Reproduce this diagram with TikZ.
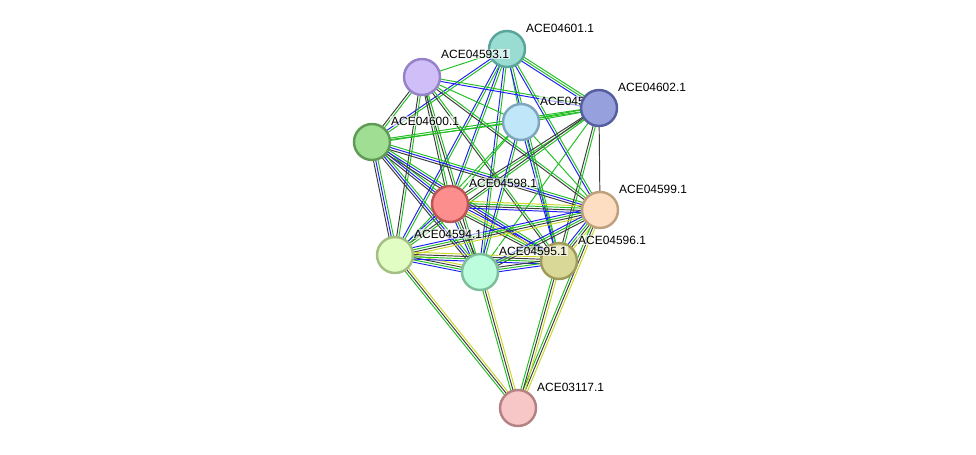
\documentclass[tikz,border=0pt]{standalone}
\usepackage{fontspec}
\setmainfont{Liberation Sans}
\usetikzlibrary{calc,backgrounds}

\definecolor{grn}{RGB}{35,190,35}
\definecolor{blu}{RGB}{30,30,245}
\definecolor{blk}{RGB}{60,60,60}
\definecolor{ylw}{RGB}{200,215,40}

\tikzset{
  prot/.style={circle,minimum size=0.72cm,inner sep=0pt,line width=1.4pt},
  lbl/.style={anchor=west,inner sep=0.5pt,fill=white,fill opacity=0.6,text opacity=1,
    font=\fontsize{6.8}{8}\selectfont},
}

% bundle of parallel lines between two proteins, one per evidence colour
\newcommand\ppiedge[3]{%
  \gdef\nlines{0}%
  \foreach \col in {#3}{\pgfmathtruncatemacro\tmp{\nlines+1}\global\let\nlines\tmp}%
  \foreach \col [count=\i] in {#3}{%
    \pgfmathsetmacro\off{(\i-(\nlines+1)/2)*1.3}%
    \draw[color=\col,line width=0.55pt] ($(#1)!\off pt!90:(#2)$) -- ($(#2)!\off pt!-90:(#1)$);}%
}

\begin{document}
\begin{tikzpicture}[x=0.02cm,y=-0.02cm]
\useasboundingbox (0,0) rectangle (976,454);

% proteins
\node[prot,fill={rgb,255:red,153;green,220;blue,210},draw={rgb,255:red,90;green,165;blue,155}] (n01) at (507,49) {};
\node[lbl] (l01) at ($(n01)+(18,-21)$) {ACE04601.1};
\node[prot,fill={rgb,255:red,207;green,190;blue,248},draw={rgb,255:red,150;green,130;blue,200}] (n93) at (422,77) {};
\node[lbl] (l93) at ($(n93)+(18,-23)$) {ACE04593.1};
\node[prot,fill={rgb,255:red,192;green,230;blue,250},draw={rgb,255:red,125;green,165;blue,190}] (n97) at (521,122) {};
\node[lbl] (l97) at ($(n97)+(18,-21)$) {ACE04597.1};
\node[prot,fill={rgb,255:red,150;green,160;blue,220},draw={rgb,255:red,85;green,95;blue,160}] (n02) at (599,108) {};
\node[lbl] (l02) at ($(n02)+(18,-21)$) {ACE04602.1};
\node[prot,fill={rgb,255:red,160;green,222;blue,148},draw={rgb,255:red,95;green,155;blue,85}] (n00) at (372,142) {};
\node[lbl] (l00) at ($(n00)+(18,-21)$) {ACE04600.1};
\node[prot,fill={rgb,255:red,252;green,142;blue,142},draw={rgb,255:red,190;green,85;blue,85}] (n98) at (450,204) {};
\node[lbl] (l98) at ($(n98)+(18,-21)$) {ACE04598.1};
\node[prot,fill={rgb,255:red,253;green,222;blue,195},draw={rgb,255:red,190;green,160;blue,125}] (n99) at (600,210) {};
\node[lbl] (l99) at ($(n99)+(18,-21)$) {ACE04599.1};
\node[prot,fill={rgb,255:red,225;green,253;blue,195},draw={rgb,255:red,165;green,190;blue,130}] (n94) at (395,255) {};
\node[lbl] (l94) at ($(n94)+(18,-21)$) {ACE04594.1};
\node[prot,fill={rgb,255:red,218;green,216;blue,150},draw={rgb,255:red,160;green,155;blue,90}] (n96) at (559,261) {};
\node[lbl] (l96) at ($(n96)+(18,-21)$) {ACE04596.1};
\node[prot,fill={rgb,255:red,188;green,253;blue,222},draw={rgb,255:red,125;green,190;blue,155}] (n95) at (480,272) {};
\node[lbl] (l95) at ($(n95)+(18,-21)$) {ACE04595.1};
\node[prot,fill={rgb,255:red,247;green,198;blue,198},draw={rgb,255:red,180;green,130;blue,130}] (n17) at (518,408) {};
\node[lbl] (l17) at ($(n17)+(18,-21)$) {ACE03117.1};

% interactions
\begin{scope}[on background layer]
\ppiedge{n01}{n93}{grn}
\ppiedge{n01}{n00}{blu,grn}
\ppiedge{n01}{n98}{blu,grn}
\ppiedge{n01}{n94}{blu,grn}
\ppiedge{n01}{n95}{blu,grn}
\ppiedge{n01}{n97}{grn}
\ppiedge{n01}{n96}{blu,grn}
\ppiedge{n01}{n99}{blu,grn}
\ppiedge{n01}{n02}{blu,grn,grn}
\ppiedge{n93}{n02}{blu,grn}
\ppiedge{n93}{n97}{grn}
\ppiedge{n93}{n00}{blk,grn}
\ppiedge{n93}{n98}{blk,grn}
\ppiedge{n93}{n94}{blk,grn}
\ppiedge{n93}{n95}{blk,grn}
\ppiedge{n93}{n99}{blk,grn}
\ppiedge{n93}{n96}{blk,grn}
\ppiedge{n00}{n97}{grn}
\ppiedge{n00}{n02}{grn,grn}
\ppiedge{n00}{n98}{blk,blu,grn}
\ppiedge{n00}{n99}{blk,blu,grn}
\ppiedge{n00}{n94}{blk,blu,grn}
\ppiedge{n00}{n95}{blk,blu,grn}
\ppiedge{n00}{n96}{blk,blu,grn}
\ppiedge{n02}{n97}{grn,grn}
\ppiedge{n02}{n98}{blk,grn}
\ppiedge{n02}{n94}{blk,grn}
\ppiedge{n02}{n95}{grn}
\ppiedge{n02}{n96}{blk,grn}
\ppiedge{n02}{n99}{blk}
\ppiedge{n97}{n98}{grn}
\ppiedge{n97}{n94}{grn}
\ppiedge{n97}{n95}{blu,grn}
\ppiedge{n97}{n96}{blu,grn}
\ppiedge{n97}{n99}{grn}
\ppiedge{n98}{n99}{blu,blk,grn,ylw}
\ppiedge{n98}{n94}{blu,grn}
\ppiedge{n98}{n95}{blu,grn,blk}
\ppiedge{n98}{n96}{blk,grn,ylw,blu}
\ppiedge{n99}{n94}{blu,grn,blk,ylw}
\ppiedge{n99}{n95}{blu,grn,blk}
\ppiedge{n99}{n96}{blu,grn,blk,ylw}
\ppiedge{n99}{n17}{grn,blk,ylw}
\ppiedge{n94}{n95}{blu,grn,blk,ylw}
\ppiedge{n94}{n96}{blu,grn,blk,ylw}
\ppiedge{n94}{n17}{grn,blk,ylw}
\ppiedge{n95}{n96}{blu,grn,blk}
\ppiedge{n95}{n17}{grn,blk,ylw}
\ppiedge{n96}{n17}{grn,blk,ylw}
\end{scope}
\end{tikzpicture}
\end{document}
